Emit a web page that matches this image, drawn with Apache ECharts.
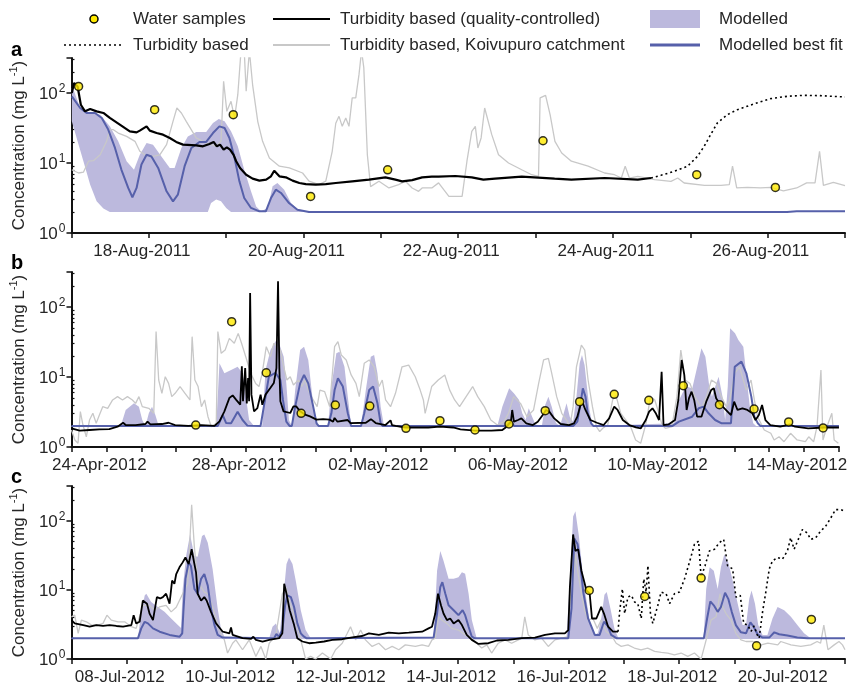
<!DOCTYPE html>
<html><head><meta charset="utf-8">
<script src="https://cdn.jsdelivr.net/npm/echarts@6/dist/echarts.min.js"></script>
<style>html,body{margin:0;padding:0;background:#fff}#c{width:850px;height:686px}</style>
</head><body><div id="c"></div>
<script>
// ---------- DATA (x = hours since the first day of each panel, y = mg/L) ----------
// Panel a : 17-Aug-2011 00:00 .. 27-Aug-2011 00:00
const A_LABEL_DAYS = [1, 3, 5, 7, 9];
const A_LABELS = ['18-Aug-2011', '20-Aug-2011', '22-Aug-2011', '24-Aug-2011', '26-Aug-2011'];
const A_SAMPLES = [[2.2,124],[25.8,57.7],[50.2,49],[74.2,3.33],[98.1,8.0],[146.3,20.8],[194,6.8],[218.4,4.48]];
const A_QC = [[0.1,100],[0.8,139],[1.9,124],[2.9,68],[4.2,54.7],[5.8,59],[7.8,54.7],[9.9,51.8],[11.9,44],[15,35.3],[18.1,28.3],[20.2,27.4],[21.2,29],[23.3,33.4],[24.3,29],[26.4,26.8],[28.4,25.4],[30.5,22.8],[32.5,20],[34.6,18.3],[38.7,17.9],[40.8,17.3],[42.8,18.7],[44.1,20],[45.1,17.3],[46.1,18.3],[47.2,15.5],[48.2,16.7],[49.2,15.5],[50.3,13.1],[51.1,10.6],[52.3,8.5],[54.2,6.8],[56.2,5.97],[58.3,5.6],[60.4,5.78],[61.9,6.45],[62.9,7.77],[64.5,6.45],[66.5,6.24],[68.6,5.6],[70.7,5.18],[72.7,5.0],[75.8,4.9],[78.9,5.0],[82,5.18],[87.1,5.47],[92.3,5.78],[97.4,6.24],[100.5,5.78],[102.6,5.47],[105.7,5.7],[108.8,6.24],[111.8,6.38],[113.9,6.38],[119.1,6.52],[124.2,6.24],[127.8,5.78],[131.4,5.97],[139.7,6.38],[149.9,5.97],[155.1,5.78],[165.4,6.1],[175.7,5.78],[179.8,6.1]];
const A_DOTTED = [[179.8,6.1],[182.9,6.67],[187,7.6],[191.1,8.96],[194.2,12.4],[196.3,17.3],[198.3,25.4],[200.4,37.3],[203.5,49],[206.6,57.8],[211.7,69.7],[216.9,83],[222,89.6],[227.2,92.6],[232.3,91.6],[240,87.7]];
const A_GREY = [[0.1,8.0],[2.2,7.2],[3.7,7.4],[5.3,10.6],[6.8,10.8],[8.9,13.1],[10.9,20.4],[11.9,29.9],[13,29.9],[14.5,26.8],[17.1,24],[19.7,20.4],[21.2,14.7],[22.8,13.1],[25.3,12.4],[27.4,13.1],[29.5,18.3],[31.5,39.4],[32.7,61],[34.1,51.8],[35.6,39.4],[38.7,22.8],[41.8,19.3],[44.9,17.3],[46.4,20.4],[47.2,147],[48.2,54.7],[49.5,76],[50.6,44],[51.6,94.6],[52.6,400],[53.6,400],[54.2,106],[55.2,400],[56.2,131],[57.8,39],[59.3,20.4],[61.4,11.8],[64.5,9],[67.6,8.5],[71.7,7.2],[73.7,5.5],[75.3,5.2],[76.8,4.9],[78.9,5.5],[80.9,14.7],[82,37],[83,46.4],[84,33.4],[85.1,44],[86.1,33.4],[87.1,85],[88.2,85],[89.2,183],[90,400],[90.7,230],[91.8,13.1],[92.8,4.6],[95.4,5.5],[98.5,4.4],[101.5,4.9],[103.6,5.5],[105.7,4.4],[107.7,3.94],[108.8,4.4],[111.8,4.4],[113.9,5.2],[115.5,4.16],[117.1,3.34],[119.1,3.34],[121.2,3.34],[122.7,10.6],[124.2,28.3],[125.3,33.4],[126.1,16.4],[127.1,22.8],[128.2,61],[130.4,25.4],[132.5,13.1],[135.6,10],[139.7,8],[142.8,6.8],[144.9,6.45],[145.4,85],[147.1,92.6],[148.5,49],[150,20.4],[152.1,13.9],[155.1,10.6],[160.3,9],[165.4,7.2],[168.5,6.8],[170.6,6.1],[171.8,9],[173.1,6.1],[175.7,6.45],[180.9,5.78],[186,5.47],[188.1,6.1],[190.1,5.18],[196.4,4.8],[201.5,4.8],[204.1,4.9],[205.1,9],[206.4,4.4],[209.7,4.5],[213.8,4.4],[216.9,4.5],[220.9,4.0],[225,4.4],[228.1,5.2],[230.7,5.2],[232.1,14.7],[233.3,4.8],[236.4,5.3],[240,4.75]];
const A_FIT = [[0.1,89.6],[2.7,61],[4.7,51.8],[7.3,51.8],[9.4,44],[11.4,30],[13.5,16.4],[15.5,8],[17.6,4.4],[18.9,3.24],[20.2,4.4],[21.7,9.5],[23.3,13.1],[24.8,12.4],[26.9,8.5],[29.5,3.94],[31.5,2.83],[33,3.53],[35.1,9],[37.2,16.4],[39.7,20],[41.8,20],[43.9,26.8],[45.9,33.4],[47.5,31.6],[49,22.8],[50.6,11.8],[52.1,5.47],[53.6,3.16],[55.7,2.28],[58.3,2.04],[60.3,2.04],[61.9,3.16],[63.4,4.16],[65,3.73],[67.5,2.68],[70.1,2.15],[73.7,2.0],[222,2.0],[225,2.05],[240,2.05]];
const A_BAND_UP = [[0.1,118],[0.8,106],[2.7,61],[5.8,51.8],[8.9,49],[11.9,33.4],[14.5,20.4],[17.1,10.6],[19.4,8.0],[21.2,13.1],[23.3,19.3],[25.3,18.3],[27.9,12.4],[30.5,8.5],[32,8.5],[34.1,16.4],[36.1,24],[38.7,27.7],[41.8,27.7],[43.9,37.3],[45.7,42.5],[47.5,39.4],[49.5,28.3],[51.6,17.3],[53.6,8.0],[55.7,3.94],[57.3,2.4],[58.8,2.04],[60.9,2.28],[62.4,4.64],[63.9,5.18],[66,4.16],[68.1,2.68],[70.6,2.08],[73.7,2.02],[240,2.04]];
const A_BAND_LO = [[0.1,39.4],[1.6,22.8],[3.7,10.6],[5.8,4.9],[7.8,2.83],[9.9,2.23],[11.9,2.0],[42.3,2.0],[43.3,2.68],[44.9,3.0],[46.4,2.83],[48,2.28],[49.5,2.0],[240,2.0]];

// Panel b : 23-Apr-2012 00:00 .. 15-May-2012 00:00
const B_LABEL_DAYS = [1, 5, 9, 13, 17, 21];
const B_LABELS = ['24-Apr-2012', '28-Apr-2012', '02-May-2012', '06-May-2012', '10-May-2012', '14-May-2012'];
const B_SAMPLES = [[85.5,2.06],[110.2,61.7],[134,11.5],[158,3.03],[181.5,3.98],[205.2,3.85],[230.1,1.85],[253.5,2.38],[277.6,1.75],[301,2.13],[325.9,3.3],[349.6,4.44],[373.4,5.65],[397.2,4.64],[420.9,7.5],[445.8,4.03],[469.6,3.49],[493.4,2.28],[517.1,1.87]];
const B_QC = [[0,1.85],[5.7,1.71],[12.4,1.75],[19.2,1.79],[26,1.8],[31.7,1.95],[35.5,2.22],[37.3,2.06],[44.1,2.06],[50.9,2.13],[52.3,2.3],[54.3,2.1],[62.2,2.13],[66.8,2.22],[71.3,2.06],[80.3,2.0],[89.4,2.06],[98.4,2.0],[99.6,1.91],[101.8,2.33],[105.2,3.23],[108.6,5.0],[110.9,5.47],[113.2,4.75],[116.1,4.03],[117.2,14.2],[118.0,4.5],[119.5,13.4],[120.6,4.2],[121.5,9.7],[122.2,4.5],[122.9,158],[123.8,5.6],[125.6,3.23],[127.9,3.6],[130.1,5.6],[131.3,4.0],[133.5,5.6],[136.9,7.0],[139.2,8.2],[141,13.4],[142.1,233],[143,13.4],[143.7,4.5],[145.9,3.23],[150.5,3.06],[152.7,3.8],[154.6,3.8],[157.3,3.23],[160.7,2.9],[164.1,2.74],[168.6,2.46],[173.1,2.5],[177.6,2.46],[180,2.3],[181,2.6],[183,2.3],[190,2.43],[192,2.2],[202.5,2.22],[206,2.5],[209.3,2.2],[216,2.06],[219.5,2.4],[220.5,2.06],[223,2.0],[229.7,1.9],[238.7,1.9],[245.5,1.9],[253.5,1.95],[262.6,1.9],[267.6,1.79],[277.6,1.71],[288.9,1.71],[296.4,1.75],[299.4,1.95],[302.3,2.3],[303.2,3.38],[304.4,2.3],[307.2,2.43],[309.5,2.56],[312.9,2.18],[317.4,2.06],[320.8,2.3],[324.2,2.86],[326.5,3.38],[328.7,3.2],[332.1,2.56],[336.6,2.13],[342.3,2.06],[345.7,2.18],[348,2.71],[350.2,3.98],[351.8,4.2],[353.6,3.38],[357,2.43],[361.5,2.22],[366.1,2.06],[369.9,2.57],[373.4,3.77],[375.7,3.38],[379.3,2.43],[383.8,2.06],[388.3,1.91],[391.7,1.85],[395.1,2.43],[397.4,3.2],[399.7,3.57],[402.1,3.0],[404.2,2.43],[406,11.9],[407.3,2.06],[410.7,2.1],[415.2,2.43],[417.5,4.7],[419.8,17.5],[421.6,10.7],[423.2,3.38],[424.8,4.96],[426.6,6.17],[428.4,4.7],[430.4,2.71],[433.4,2.71],[436.7,4.44],[440.1,6.52],[441.9,6.9],[443.5,4.96],[445.8,4.2],[449.2,3.57],[453.7,2.86],[455.9,4.44],[458.2,3.38],[461.6,3.57],[465,3.38],[468.4,3.03],[470.6,2.43],[472.9,2.86],[475.1,3.98],[477.4,2.43],[480.8,2.06],[487.6,1.95],[494.4,2.1],[497.8,1.95],[506.8,1.85],[518.1,1.9],[528,1.9]];
const B_GREY = [[0,1.75],[2.3,1.26],[4.5,1.13],[6.1,3.2],[7.9,2.06],[10.2,1.4],[12.4,2.43],[14.7,3.03],[17,2.18],[19.2,2.86],[21.5,3.77],[24.9,3.57],[28.3,4.7],[31.7,5.24],[35.1,4.7],[38.5,5.24],[41.9,4.7],[44.1,4.2],[46.4,5.24],[48.7,3.77],[53.2,3.57],[56.6,3.03],[58.2,44.5],[60,9.06],[62.2,5.85],[64.5,10.1],[66.8,8.1],[69,5.24],[71.3,5.85],[74.7,7.3],[78.1,5.85],[81.5,4.7],[83,37.7],[84.9,9.06],[87.1,7.3],[89.4,3.77],[91.6,4.7],[93.9,2.71],[96.2,1.95],[99.6,2.18],[100.7,44.5],[103,21.8],[105.7,24.3],[108.6,35.6],[112,30.3],[114.7,42],[117,30.3],[119.9,19.5],[123.3,11.3],[126.7,8.1],[129,7.3],[131.2,11.3],[134,27.1],[136.9,19.5],[139.2,30.3],[141.9,27.1],[143.7,24.3],[146,14],[148.2,9.06],[150.5,10.1],[152.7,7.7],[156.1,9.06],[158.4,7.3],[160.7,9.06],[162.9,6.5],[166.3,4.7],[169,3.77],[170.9,6.5],[174.2,6.17],[177.6,3.77],[181,27.1],[183.3,32],[185.6,20.6],[189,17.5],[192.4,10.7],[195.7,8.1],[198,5.24],[201.4,15.7],[204.8,17.5],[208.2,14],[211.6,7.3],[213.8,9.06],[216.1,4.7],[219.5,3.77],[222.9,5.85],[227.4,14],[232,14.8],[236.5,10.1],[239.9,6.5],[242.1,4.7],[243.3,3.03],[247.8,7.3],[252.3,9.06],[256.8,10.7],[260.2,6.5],[263.6,4.7],[267,3.77],[271.5,5.24],[276,7.3],[279.5,5.24],[284,3.77],[288.5,2.43],[293,2.06],[297.6,2.3],[300.7,3.03],[304.2,5.24],[308.9,4.2],[313.4,2.71],[317.9,3.38],[321.4,8.1],[324.8,17.5],[328.1,18.5],[330.4,11.3],[333.8,5.24],[337.3,3.03],[340.6,2.43],[342.9,1.95],[345.1,3.77],[347.4,14],[350.8,28.6],[353.1,24.3],[355.4,9.06],[358.4,3.77],[361.1,1.95],[363.4,1.66],[365.5,1.85],[368.9,2.06],[372.3,4.7],[374.5,5.5],[377.9,3.03],[381.3,2.43],[384.7,1.95],[388.1,1.26],[391.6,1.13],[395,2.06],[398.4,5.24],[401.3,4.7],[404.1,3.03],[406.3,2.06],[408.6,1.85],[413.1,1.95],[416.5,5.24],[419.2,24.3],[422.2,9.06],[425.5,8.1],[428.9,5.24],[433.5,3.57],[436.8,5.24],[440.3,9.06],[443.7,8.1],[447.1,5.24],[450.5,3.77],[452.8,4.7],[456.2,11.3],[459.6,14],[464.2,6.5],[467.5,9.06],[469.8,4.7],[472,2.71],[476.6,1.75],[481.1,1.57],[483.4,1.26],[486.8,1.4],[490.2,1.19],[494.7,1.57],[499.2,1.26],[504.9,1.19],[507.2,1.4],[510.6,1.19],[512.9,1.95],[515.6,12.6],[517,1.26],[519.7,1.95],[523.1,3.03],[524.7,1.26],[527.6,1.13]];
const B_FIT = [[0,2.0],[100.7,2.0],[104.1,2.86],[106.4,2.2],[109.8,2.18],[114.3,3.2],[117.7,2.43],[121,2.02],[130.1,2.0],[133.5,5.24],[135.8,10.1],[140.3,11.5],[143.7,9.06],[145.5,4.7],[147.8,2.3],[150,2.0],[151.6,2.0],[153.9,3.77],[157.3,8.1],[160,10.7],[162.9,8.1],[166.3,3.77],[168.6,2.18],[170,2.0],[176.5,2.0],[178.8,3.03],[181,6.5],[183.3,9.6],[186.7,7.3],[190.1,3.03],[192.4,2.0],[199.2,2.0],[201.4,3.03],[204.8,6.5],[207.5,7.3],[210.5,4.2],[212.7,2.18],[214,2.0],[299,2.0],[302.2,2.3],[304.5,2.0],[345.3,2.0],[348,2.3],[350.2,4.2],[351.8,6.9],[353.6,5.24],[355.2,3.03],[357.5,2.18],[359,2.0],[413.5,2.0],[417.9,2.3],[427,2.71],[431.5,3.57],[434.9,3.77],[438.3,3.03],[442.8,2.43],[447.3,2.18],[453.7,2.18],[456.3,14],[460.9,16.6],[464.3,11.3],[467.7,5.24],[469.8,2.71],[472.2,2.18],[474,2.0],[528,2.0]];
const B_BAND_UP = [[0,2.0],[33.9,2.0],[37.3,3.38],[43,4.2],[46.4,3.77],[48.7,2.43],[50.9,2.0],[53.2,3.03],[55.4,3.77],[57.7,2.86],[60,2.0],[99.6,2.0],[101.8,15.7],[105.2,11.3],[109.8,12.6],[114.3,14],[117.7,11.3],[120,5.24],[122.2,2.43],[125.6,2.0],[131.2,2.0],[133.5,12.6],[136.9,24.3],[141,33.8],[143.2,28.6],[146,19.5],[147.8,8.1],[149.6,2.43],[151.6,2.0],[153.9,6.5],[157.3,24.3],[160,27.1],[162.9,17.5],[165.2,6.5],[167.5,2.43],[169.7,2.0],[176.5,2.0],[178.8,7.3],[182.2,21.8],[184.4,23],[187.8,14],[190.1,5.24],[192.4,2.05],[199.2,2.0],[202.5,6.5],[205.9,19.5],[208.2,20.6],[210.5,11.3],[212.7,3.77],[215,2.0],[293,2.0],[296.4,3.77],[301.1,6.9],[304.5,5.8],[307.9,4.7],[310.1,3.03],[312.4,2.43],[314.6,3.57],[316.9,2.7],[319.2,2.1],[323.6,2.0],[325.9,3.98],[328.1,5.24],[330.4,3.77],[333.3,2.2],[336,2.0],[338.3,2.86],[340.6,4.2],[342.8,2.71],[345.1,2.3],[347.4,5.24],[349.6,15.7],[351.2,20.6],[353,14.8],[354.6,7.3],[356.4,3.38],[358.6,2.0],[414.6,2.18],[418,4.7],[422.6,7.3],[427.1,6.9],[430.5,14],[433.4,25.7],[436.1,19.5],[438.8,7.3],[440.6,5.24],[442.9,7.3],[445.2,10.1],[447.9,5.24],[449.7,2.43],[451.5,7.3],[453.1,49.6],[456.5,42],[458.8,33.8],[462.2,27.1],[465.1,7.3],[466.7,3.77],[469,2.18],[471,2.0],[528,2.0]];
const B_BAND_LO = [[0,1.93],[528,1.93]];

// Panel c : 07-Jul-2012 00:00 .. 21-Jul-2012 00:00
const C_LABEL_DAYS = [1, 3, 5, 7, 9, 11, 13];
const C_LABELS = ['08-Jul-2012', '10-Jul-2012', '12-Jul-2012', '14-Jul-2012', '16-Jul-2012', '18-Jul-2012', '20-Jul-2012'];
const C_SAMPLES = [[224.9,9.8],[249,8.0],[273.5,14.8],[297.6,1.55],[321.4,3.73]];
const C_QC = [[0,3.65],[1.4,3.27],[5.1,3.09],[7.9,2.93],[10.8,3.09],[13.7,3.0],[16.6,3.09],[19.5,3.0],[22.4,2.93],[26,3.09],[27,4.3],[28.1,3.27],[29.6,3.45],[31,7.0],[32.8,6.3],[33.9,4.54],[35.4,3.65],[37.1,7.85],[38.5,7.5],[39.7,7.85],[41.1,8.77],[42.6,6.3],[43.7,13.6],[44.7,12.2],[45.5,16.9],[46.9,21.1],[48.3,24.9],[49.5,29.3],[50.9,23.5],[52.2,38.5],[53.4,23.5],[54.1,17.9],[54.8,8.77],[56.3,7.0],[57.7,7.85],[58.7,7.0],[60.6,4.8],[62.8,3.27],[65.7,2.48],[68.6,2.35],[69.3,2.86],[70,2.23],[74.3,2.0],[78,1.95],[79,2.1],[80.1,1.89],[83,1.79],[85.9,1.89],[90.2,2.0],[91.6,2.35],[92.4,12.2],[93.4,8.77],[94.8,5.07],[96.7,3.09],[98.1,2.0],[100.3,1.79],[103.2,1.69],[106.1,1.73],[109.7,1.79],[113.3,1.89],[117.6,1.93],[122,2.06],[126.3,2.15],[129.2,2.35],[133.5,2.23],[137.8,2.4],[142.2,2.35],[146.5,2.4],[152.3,2.48],[155.1,2.77],[156.6,2.93],[158,4.5],[159.2,8.77],[160.5,6.0],[161.6,4.54],[163.1,3.65],[164.5,3.85],[166,3.27],[168.1,3.65],[169.6,3.09],[171.7,2.23],[173.9,1.89],[176.8,1.65],[181.1,1.69],[184.8,1.85],[189.8,1.89],[195.6,2.0],[201.3,2.04],[205.7,2.23],[210,2.35],[214.3,2.35],[215.8,2.62],[216.5,10.9],[217.9,63],[218.9,36.5],[220.1,38.5],[221.5,18.9],[223.7,9.8],[225.1,8.77],[226.1,3.85],[228,3.85],[230.1,5.65],[231.3,4.54],[233.1,2.93],[235.2,2.48],[237.4,2.48]];
const C_DOTTED = [[237.4,2.48],[238.1,4.8],[239.3,10.3],[240.3,4.54],[241.7,7.85],[243.2,8.3],[244.6,6.67],[246,6.3],[247.5,3.85],[248.6,14.4],[249.6,9.3],[250.4,22.3],[251.5,4.5],[252.5,3.27],[254.7,5.97],[256.1,9.27],[258.3,8.77],[259.8,6.3],[261.9,8.77],[264.1,9.27],[266.3,14.4],[268.4,24.8],[270.6,45.4],[272.4,50.7],[273.5,15.2],[275.2,22.3],[277.1,36.5],[279.3,38.5],[281.4,48],[283.3,53.5],[285,22.3],[287.2,20],[288.6,7.85],[290.5,8.3],[292,3.27],[293.7,3.1],[295.2,2.5],[296.5,3.0],[297.9,2.23],[298.7,2.0],[300.2,4.8],[301.6,9.27],[303.1,20],[304.5,26.2],[306.7,29.3],[308.8,27.7],[311,36.5],[312.4,56.5],[313.9,38.5],[316,56.5],[317.5,74.3],[319.6,66],[321.1,53.5],[323.3,56.5],[325.4,70.4],[327.6,83],[329.8,109],[331.9,144],[334.1,144],[336,136]];
const C_GREY = [[0,4.07],[1.4,4.3],[2.9,2.35],[4.3,3.65],[6.5,3.45],[8.7,3.09],[11.5,3.09],[13.7,3.27],[15.4,4.3],[17.3,3.65],[20.2,3.45],[23.1,3.45],[26,2.93],[28.1,2.77],[31,5.97],[33.9,5.97],[36.1,5.07],[38.2,5.65],[41.1,5.97],[43.3,4.8],[45.5,5.6],[48.3,8.77],[50.5,12.2],[52.2,169],[53.4,40.7],[54.8,14.4],[56.3,10.9],[57.7,9.27],[59.2,8.77],[61.3,5.65],[62.8,3.85],[64.9,2.35],[66.4,1.89],[67.8,1.22],[70,1.69],[71.4,1.89],[74.3,1.36],[77.2,1.89],[80.1,1.09],[82.3,1.52],[84.4,1.0],[85.9,1.69],[88.8,2.23],[91.6,8.77],[93.1,10.9],[94.5,7.05],[97.4,3.65],[100.3,1.52],[101.7,1.0],[103.9,1.09],[106,1.0],[109,1.22],[112.6,1.0],[114.7,1.36],[117.6,1.69],[119.8,2.35],[121.2,2.93],[123.4,1.89],[125.6,2.62],[127.7,1.89],[130.6,1.52],[133.5,1.69],[136.4,1.36],[139.3,1.52],[142.2,1.36],[145,1.6],[149.4,1.52],[152.3,1.6],[155.1,1.52],[156.6,1.89],[158,2.0],[159.5,4.07],[160.9,3.65],[163.1,3.27],[165.2,2.77],[168.1,2.62],[171,2.23],[173.9,2.0],[176,1.69],[178.2,1.44],[180.4,1.6],[182.5,1.22],[185.4,1.69],[188.3,1.89],[191.2,1.69],[194.1,1.89],[195.6,2.0],[196.9,4.07],[198.4,2.23],[201.3,1.89],[204.2,2.0],[207.1,1.52],[210,1.89],[212.9,2.0],[215.8,2.1],[216.9,8.77],[217.9,13.6],[218.9,32.7],[220.1,16.9],[221.5,8.77],[222.9,5.07],[224.4,3.65],[226.5,3.85],[228.4,2.77],[230.1,3.65],[232.3,2.48],[234.4,2.23],[236.6,1.69],[238.8,1.52],[241.7,1.6],[244.5,1.44],[247.4,1.36],[250.3,1.44],[253.3,1.29],[256.2,1.25],[259,1.22],[261.9,1.15],[264.8,1.22],[267.7,1.09],[270.6,1.22],[273.5,1.0],[275.7,1.89],[277.8,3.65],[280,4.07],[281.7,8.77],[282.9,5.65],[284.3,4.54],[286.5,3.65],[288.6,2.35],[290.8,1.89],[293,1.79],[296,1.79],[299.6,1.6],[302.5,1.69],[306.8,1.6],[308.1,1.79],[312.5,1.6],[316.8,1.52],[321.1,1.6],[323.9,1.79],[325.4,1.69],[326.8,3.09],[328.6,1.36],[331.3,1.6],[333.4,1.79],[334.9,1.6],[336,1.36]];
const C_FIT = [[0,2.0],[28.9,2.0],[30.3,2.77],[31.8,3.45],[33.2,3.27],[35.4,2.77],[38.3,2.48],[42.6,2.23],[47,2.1],[48.1,2.35],[48.6,4.8],[49.5,14.4],[50.9,25],[51.9,22],[53.4,10.3],[54.8,8.77],[56.3,14.4],[57.7,16.9],[59.2,11.5],[60.6,5.35],[62.1,3.09],[63.5,2.23],[65.7,2.04],[88,2.0],[89,2.3],[90.2,2.1],[91.6,2.62],[92.8,5.97],[93.8,8.3],[95.3,7.85],[96.7,5.65],[98.1,3.27],[99.6,2.35],[101,2.1],[102,2.0],[157.3,2.04],[158.8,4.54],[160.2,10.9],[161.1,12.9],[162.4,8.77],[163.8,5.97],[166,5.07],[168.1,4.3],[169.9,5.07],[171,4.3],[172.5,2.93],[173.9,2.1],[175,2.0],[215.8,2.0],[217.2,5.35],[218.4,55],[219.8,46],[220.8,27.7],[222.3,9.27],[224.4,3.85],[227.3,2.23],[229.4,2.23],[231.3,3.45],[233,3.0],[234.4,2.23],[236.7,2.0],[274.7,2.0],[276.1,3.85],[277.5,6.8],[279,5.97],[280.7,4.8],[282.1,5.65],[283.9,9.06],[285.3,7.4],[286.8,4.8],[288.6,3.09],[290.8,2.43],[293,2.35],[294.9,3.38],[296.3,2.93],[298,2.28],[300.2,2.04],[303.1,2.04],[305.3,2.43],[307.4,2.28],[311,2.18],[315.3,2.04],[319.6,2.0],[336,2.0]];
const C_BAND_UP = [[0,2.0],[28.9,2.0],[29.9,3.85],[31.8,8.3],[32.5,8.77],[34.6,6.67],[37.5,5.65],[40.4,4.8],[43.3,3.85],[46.2,3.09],[47.6,2.8],[48.3,10.3],[49.8,30.9],[51.5,63],[53.4,30.9],[54.8,30],[56.7,59.7],[57.7,63],[59.2,48],[61.3,20],[63.5,5.35],[64.9,2.77],[66.4,2.1],[67.5,2.0],[85.9,2.0],[87.3,2.93],[88.8,3.27],[90.5,2.35],[91.9,7.0],[93.4,23.5],[94.5,29.3],[96,23.5],[97.4,13.6],[99.6,5.07],[101.7,2.62],[103.9,2.0],[157.3,2.0],[158.8,18.9],[160.2,36.5],[161.6,26.2],[163.8,14.4],[166,14.4],[168.1,15.2],[169.6,17.9],[171,17.1],[172.5,8.77],[173.9,3.65],[176,2.0],[215,2.0],[216.5,14.4],[217.9,115],[218.9,136],[220.4,59.7],[222.3,14.4],[225.1,3.45],[227.3,2.2],[228.7,2.4],[230.2,4.0],[231.5,8.5],[232.5,9.3],[234.2,5.2],[235.9,2.7],[237.6,2.0],[274.6,2.0],[275.7,10.3],[277.2,21.1],[279,18.9],[280.7,10.3],[282.1,21.1],[283.6,32.7],[285.3,24.8],[287.2,13.6],[289.4,6.3],[291.5,3.09],[293,3.09],[294.4,7.4],[295.4,9.8],[296.9,6.3],[298.3,3.09],[300.2,2.23],[302.3,2.23],[304.5,3.85],[306.7,5.65],[309.6,5.07],[312.5,4.07],[315.3,3.09],[318.2,2.35],[321.1,2.0],[336,2.0]];
const C_BAND_LO = [[0,1.95],[336,1.95]];

// y-axis tick values (mg/L)
const Y_MAJOR = [1, 10, 100];
const Y_MINOR = [2,3,4,5,6,7,8,9,20,30,40,50,60,70,80,90,200,300];

// ---------- STYLE ----------
const FONT = '"Liberation Sans", Arial, Helvetica, sans-serif';
const BAND = '#bcb9dd', FIT = '#5660aa', GREY = '#c8c8c8', TXT = '#262626', AX = '#111';
const YMIN = 1, YMAX = 316.2;

const panels = [
  {top: 58,  xmax: 240, days: A_LABEL_DAYS, labels: A_LABELS, s: A_SAMPLES, qc: A_QC, dot: A_DOTTED, grey: A_GREY, fit: A_FIT, up: A_BAND_UP, lo: A_BAND_LO, qcW: 2.2},
  {top: 272, xmax: 528, days: B_LABEL_DAYS, labels: B_LABELS, s: B_SAMPLES, qc: B_QC, dot: [], grey: B_GREY, fit: B_FIT, up: B_BAND_UP, lo: B_BAND_LO, qcW: 1.8},
  {top: 486, xmax: 336, days: C_LABEL_DAYS, labels: C_LABELS, s: C_SAMPLES, qc: C_QC, dot: C_DOTTED, grey: C_GREY, fit: C_FIT, up: C_BAND_UP, lo: C_BAND_LO, qcW: 1.8}
];

const grids = [], xAxes = [], yAxes = [], series = [];
panels.forEach((p, i) => {
  grids.push({left: 68, right: 5, top: p.top, height: 175});
  xAxes.push({
    gridIndex: i, type: 'value', min: 0, max: p.xmax, interval: 24,
    axisLine: {onZero: false, lineStyle: {color: AX, width: 2}},
    axisTick: {length: 5, lineStyle: {color: AX, width: 1.5}},
    splitLine: {show: false},
    axisLabel: {fontSize: 17, color: TXT, fontFamily: FONT, margin: 10, padding: [0, 14, 0, 0],
      formatter: v => { const k = Math.round(v / 24); const j = p.days.indexOf(k); return j >= 0 ? p.labels[j] : ''; }}
  });
  yAxes.push({
    gridIndex: i, type: 'log', logBase: 10, min: YMIN, max: YMAX,
    axisLine: {show: true, onZero: false, lineStyle: {color: AX, width: 2}},
    axisTick: {show: true, length: 5, lineStyle: {color: AX, width: 1.5}},
    splitLine: {show: false}, minorTick: {show: false},
    axisLabel: {margin: 6, color: TXT, fontFamily: FONT,
      formatter: v => { const l = Math.log10(v), e = Math.round(l); return Math.abs(l - e) < 1e-6 && Y_MAJOR.indexOf(Math.pow(10, e)) >= 0 ? '{b|10}{s|' + e + '}' : ''; },
      rich: {b: {fontSize: 17, fontFamily: FONT, color: TXT, lineHeight: 20, verticalAlign: 'bottom'},
             s: {fontSize: 12, fontFamily: FONT, color: TXT, lineHeight: 20, verticalAlign: 'top', padding: [0, 0, 0, 1]}}},
    name: '{t|Concentration (mg L}{u|-1}{t|)}', nameLocation: 'middle', nameGap: 35,
    nameTextStyle: {rich: {t: {fontSize: 17, fontFamily: FONT, color: TXT, lineHeight: 20, verticalAlign: 'bottom'},
                           u: {fontSize: 11, fontFamily: FONT, color: TXT, lineHeight: 20, verticalAlign: 'top'}}}
  });
  yAxes.push({
    gridIndex: i, type: 'value', min: Math.log10(YMIN), max: Math.log10(YMAX),
    axisLine: {show: false}, splitLine: {show: false}, axisLabel: {show: false},
    axisTick: {show: true, length: 3, lineStyle: {color: AX, width: 1.2}, customValues: Y_MINOR.map(v => Math.log10(v))}
  });
  const up = p.up, lo = p.lo;
  series.push({
    type: 'custom', xAxisIndex: i, yAxisIndex: 2 * i, silent: true, z: 1, clip: true,
    data: [up[0]],
    renderItem: (params, api) => {
      if (params.dataIndex !== 0) return;
      const pts = up.map(d => api.coord(d));
      for (let k = lo.length - 1; k >= 0; k--) pts.push(api.coord(lo[k]));
      return {type: 'polygon', shape: {points: pts}, style: {fill: BAND}};
    }
  });
  series.push({type: 'line', xAxisIndex: i, yAxisIndex: 2 * i, data: p.grey, showSymbol: false, z: 2,
    lineStyle: {color: GREY, width: 1.3}, silent: true});
  series.push({type: 'line', xAxisIndex: i, yAxisIndex: 2 * i, data: p.fit, showSymbol: false, z: 3,
    lineStyle: {color: FIT, width: 2}, silent: true});
  series.push({type: 'line', xAxisIndex: i, yAxisIndex: 2 * i, data: p.qc, showSymbol: false, z: 4,
    lineStyle: {color: '#000', width: p.qcW}, silent: true});
  if (p.dot.length) series.push({type: 'line', xAxisIndex: i, yAxisIndex: 2 * i, data: p.dot, showSymbol: false, z: 4,
    lineStyle: {color: '#000', width: 1.6, type: [2, 3]}, silent: true});
  series.push({type: 'scatter', xAxisIndex: i, yAxisIndex: 2 * i, data: p.s, z: 5, symbol: 'circle', symbolSize: 8,
    itemStyle: {color: '#ffea00', borderColor: '#000', borderWidth: 1.5}, silent: true});
});

const R1 = 19, R2 = 45;
const graphic = [
  {type: 'circle', shape: {cx: 94, cy: R1, r: 4}, style: {fill: '#ffea00', stroke: '#000', lineWidth: 1.5}},
  {type: 'text', x: 133, y: R1, style: {text: 'Water samples', fontSize: 17, fontFamily: FONT, fill: TXT, verticalAlign: 'middle'}},
  {type: 'line', shape: {x1: 273, y1: R1, x2: 330, y2: R1}, style: {stroke: '#000', lineWidth: 2.2}},
  {type: 'text', x: 340, y: R1, style: {text: 'Turbidity based (quality-controlled)', fontSize: 17, fontFamily: FONT, fill: TXT, verticalAlign: 'middle'}},
  {type: 'rect', shape: {x: 650, y: R1 - 9, width: 50, height: 18}, style: {fill: BAND}},
  {type: 'text', x: 719, y: R1, style: {text: 'Modelled', fontSize: 17, fontFamily: FONT, fill: TXT, verticalAlign: 'middle'}},
  {type: 'line', shape: {x1: 64, y1: R2, x2: 123, y2: R2}, style: {stroke: '#000', lineWidth: 1.6, lineDash: [2, 3]}},
  {type: 'text', x: 133, y: R2, style: {text: 'Turbidity based', fontSize: 17, fontFamily: FONT, fill: TXT, verticalAlign: 'middle'}},
  {type: 'line', shape: {x1: 273, y1: R2, x2: 330, y2: R2}, style: {stroke: GREY, lineWidth: 2}},
  {type: 'text', x: 340, y: R2, style: {text: 'Turbidity based, Koivupuro catchment', fontSize: 17, fontFamily: FONT, fill: TXT, verticalAlign: 'middle'}},
  {type: 'line', shape: {x1: 650, y1: R2, x2: 700, y2: R2}, style: {stroke: FIT, lineWidth: 3}},
  {type: 'text', x: 719, y: R2, style: {text: 'Modelled best fit', fontSize: 17, fontFamily: FONT, fill: TXT, verticalAlign: 'middle'}},
  {type: 'text', x: 11, y: 50, style: {text: 'a', fontSize: 20, fontWeight: 'bold', fontFamily: FONT, fill: '#000', verticalAlign: 'middle'}},
  {type: 'text', x: 11, y: 263, style: {text: 'b', fontSize: 20, fontWeight: 'bold', fontFamily: FONT, fill: '#000', verticalAlign: 'middle'}},
  {type: 'text', x: 11, y: 477, style: {text: 'c', fontSize: 20, fontWeight: 'bold', fontFamily: FONT, fill: '#000', verticalAlign: 'middle'}}
];

const chart = echarts.init(document.getElementById('c'), null, {renderer: 'canvas'});
chart.setOption({
  animation: false, backgroundColor: '#fff',
  grid: grids, xAxis: xAxes, yAxis: yAxes, series: series, graphic: graphic
});
</script></body></html>
